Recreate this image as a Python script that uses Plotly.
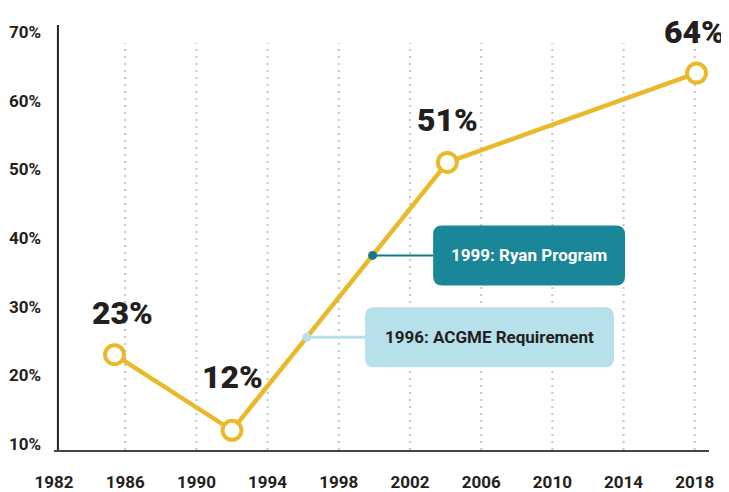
import plotly.graph_objects as go
import numpy as np

# ---- data ----
years = [1985.4, 1992, 2004.1, 2018.1]
values = [23, 12, 51, 64]
point_labels = ["23%", "12%", "51%", "64%"]

x_ticks = [1982, 1986, 1990, 1994, 1998, 2002, 2006, 2010, 2014, 2018]
y_ticks = [10, 20, 30, 40, 50, 60, 70]
y_ticklabels = ["10%", "20%", "30%", "40%", "50%", "60%", "70%"]

events = ["1996: ACGME Requirement", "1999: Ryan Program"]
event_x = [1996.2, 1999.9]

# ---- styles ----
FONT = "Roboto, Liberation Sans, sans-serif"
GOLD = "#E9B92B"
DARK = "#231F20"
TEAL = "#1A8799"
LIGHT = "#B6E1EA"

# page body has an 8px margin; compensate so the drawing lands where intended
W, H = 721, 492
ML, MR, MT, MB = 46, 20, 17, 50
XR = [1982, 2018.8]
YR = [9.13, 71.0]
pxx = (W - ML - MR) / (XR[1] - XR[0])
pxy = (H - MT - MB) / (YR[1] - YR[0])

fig = go.Figure()

# gridlines (dotted verticals at tick years, except the first)
shapes = []
grid_top = 1 - (18) / (H - MT - MB)
for xv in x_ticks[1:]:
    shapes.append(dict(type="line", xref="x", yref="paper", x0=xv, x1=xv, y0=0, y1=grid_top,
                       line=dict(color="#C4C4C4", width=2, dash="2px,5px"), layer="below"))

# y axis line
shapes.append(dict(type="line", xref="paper", yref="paper", x0=0.006, x1=0.006, y0=0, y1=1,
                   line=dict(color="#222", width=2)))

# main line
fig.add_trace(go.Scatter(
    x=years, y=values, mode="lines+markers",
    line=dict(color=GOLD, width=4.5),
    marker=dict(size=19, color="white", line=dict(color=GOLD, width=4)),
    hoverinfo="skip", showlegend=False,
))

# event boxes
def rounded_box(x0, x1, y0, y1, r_px=9):
    rx = r_px / pxx
    ry = r_px / pxy
    return (f"M {x0+rx},{y0} L {x1-rx},{y0} Q {x1},{y0} {x1},{y0+ry} "
            f"L {x1},{y1-ry} Q {x1},{y1} {x1-rx},{y1} L {x0+rx},{y1} "
            f"Q {x0},{y1} {x0},{y1-ry} L {x0},{y0+ry} Q {x0},{y0} {x0+rx},{y0} Z")

box_spec = [
    dict(x0=1999.47, x1=2013.46, fill=LIGHT, text_color=DARK, line_color=LIGHT, dot_color=LIGHT, lw=3),
    dict(x0=2003.3, x1=2014.08, fill=TEAL, text_color="white", line_color="#17788A", dot_color="#17788A", lw=2),
]
half_h = 30 / pxy
annotations = []
for name, ex, spec in zip(events, event_x, box_spec):
    ey = float(np.interp(ex, years, values))
    shapes.append(dict(type="line", xref="x", yref="y", x0=ex, x1=spec["x0"], y0=ey, y1=ey,
                       line=dict(color=spec["line_color"], width=spec["lw"])))
    shapes.append(dict(type="path", xref="x", yref="y",
                       path=rounded_box(spec["x0"], spec["x1"], ey - half_h, ey + half_h),
                       fillcolor=spec["fill"], line=dict(width=0)))
    fig.add_trace(go.Scatter(x=[ex], y=[ey], mode="markers",
                             marker=dict(size=9, color=spec["dot_color"]),
                             hoverinfo="skip", showlegend=False))
    annotations.append(dict(x=(spec["x0"] + spec["x1"]) / 2, y=ey, xref="x", yref="y",
                            text=name, showarrow=False,
                            font=dict(family=FONT, size=17, weight=700, color=spec["text_color"])))

# point labels
shifts = [(8, 42), (1, 53), (0, 42), (-2, 41)]
for xv, yv, lab, (dx, dy) in zip(years, values, point_labels, shifts):
    annotations.append(dict(x=xv, y=yv, xref="x", yref="y", text=lab,
                            showarrow=False, xshift=dx, yshift=dy,
                            font=dict(family=FONT, size=32, weight=900, color=DARK)))

fig.update_layout(
    width=W, height=H,
    margin=dict(l=ML, r=MR, t=MT, b=MB),
    paper_bgcolor="white", plot_bgcolor="white",
    shapes=shapes, annotations=annotations,
    xaxis=dict(range=XR, tickvals=x_ticks, ticktext=[str(t) for t in x_ticks],
               showgrid=False, zeroline=False, showline=True, linecolor="#444", linewidth=2,
               ticks="", ticklabelstandoff=16, automargin=False,
               tickfont=dict(family=FONT, size=17, weight=700, color=DARK)),
    yaxis=dict(range=YR, tickvals=y_ticks, ticktext=y_ticklabels,
               showgrid=False, zeroline=False, showline=False, ticks="",
               ticklabelstandoff=12, automargin=False,
               tickfont=dict(family=FONT, size=17, weight=700, color=DARK)),
)

fig.write_html("out.html")
